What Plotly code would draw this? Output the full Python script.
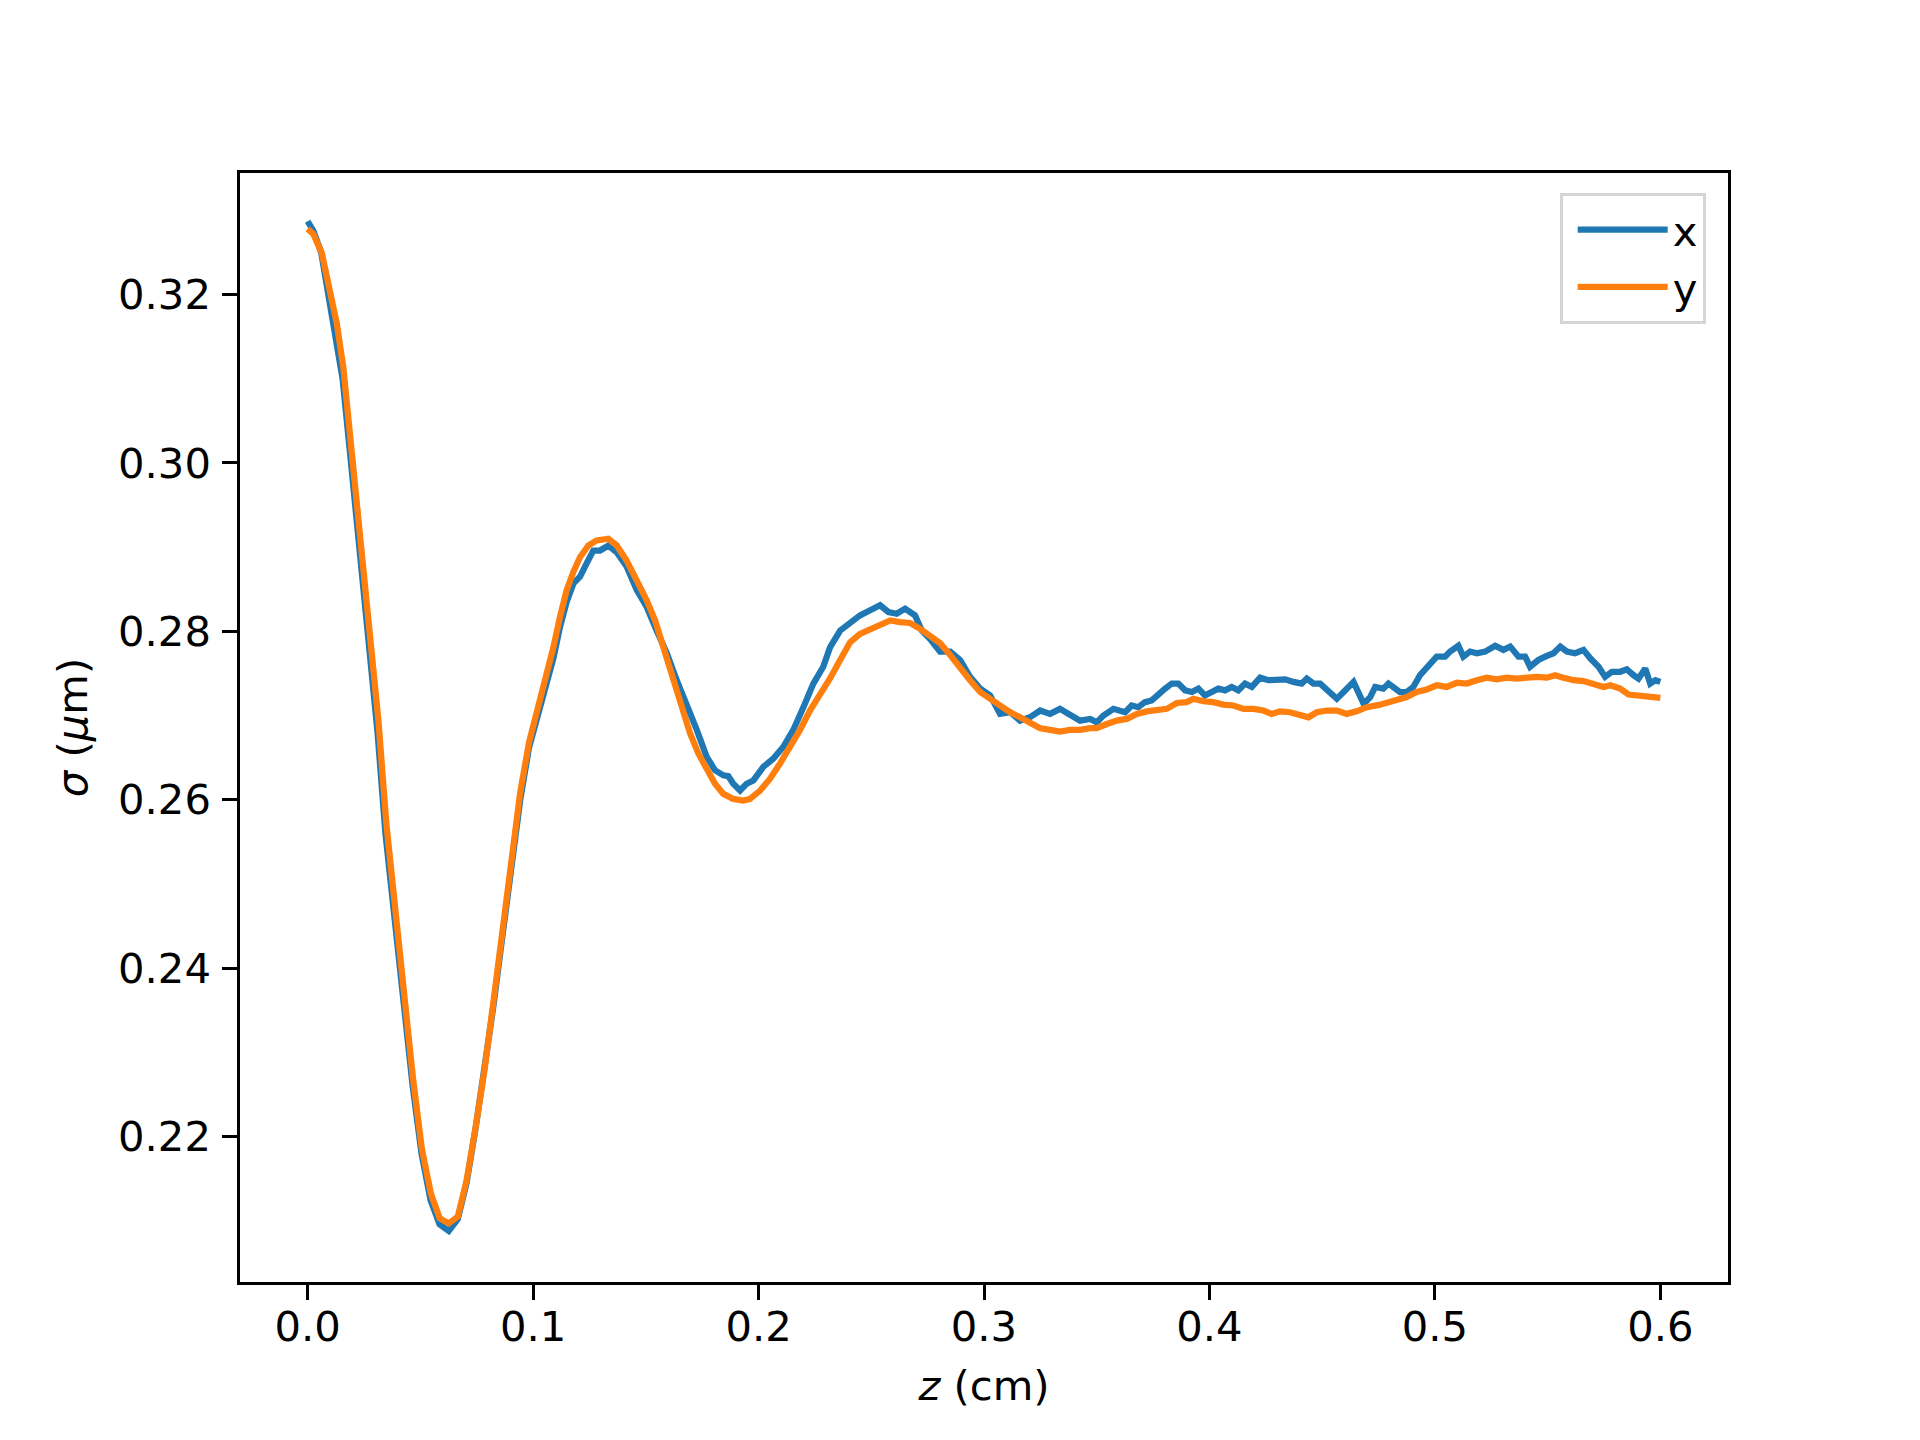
import plotly.graph_objects as go

# ---- data: series "x" (sigma_x) ----
z_x = [0.0000, 0.0025, 0.0060, 0.0090, 0.0125, 0.0155, 0.0185, 0.0215, 0.0245, 0.0280,
       0.0310, 0.0345, 0.0385, 0.0425, 0.0465, 0.0505, 0.0545, 0.0585, 0.0626, 0.0666,
       0.0705, 0.0745, 0.0785, 0.0824, 0.0864, 0.0903, 0.0943, 0.0982, 0.1025, 0.1060,
       0.1090, 0.1120, 0.1149, 0.1179, 0.1208, 0.1238, 0.1267, 0.1297, 0.1334, 0.1371,
       0.1415, 0.1460, 0.1504, 0.1548, 0.1593, 0.1637, 0.1681, 0.1726, 0.1770, 0.1807,
       0.1844, 0.1866, 0.1888, 0.1918, 0.1947, 0.1977, 0.2021, 0.2066, 0.2110, 0.2154,
       0.2199, 0.2243, 0.2287, 0.2317, 0.2362, 0.2406, 0.2450, 0.2495, 0.2539, 0.2576,
       0.2613, 0.2650, 0.2694, 0.2724, 0.2761, 0.2805, 0.2850, 0.2894, 0.2938, 0.2983,
       0.3027, 0.3071, 0.3116, 0.3160, 0.3204, 0.3249, 0.3293, 0.3337, 0.3382, 0.3426,
       0.3471, 0.3500, 0.3529, 0.3574, 0.3626, 0.3655, 0.3684, 0.3714, 0.3744, 0.3773,
       0.3803, 0.3833, 0.3862, 0.3892, 0.3922, 0.3951, 0.3980, 0.4010, 0.4039, 0.4069,
       0.4099, 0.4128, 0.4158, 0.4188, 0.4225, 0.4261, 0.4299, 0.4336, 0.4372, 0.4409,
       0.4432, 0.4461, 0.4491, 0.4528, 0.4565, 0.4595, 0.4639, 0.4684, 0.4713, 0.4735,
       0.4771, 0.4794, 0.4823, 0.4845, 0.4875, 0.4904, 0.4934, 0.4971, 0.5008, 0.5045,
       0.5067, 0.5104, 0.5126, 0.5156, 0.5186, 0.5223, 0.5267, 0.5304, 0.5334, 0.5371,
       0.5400, 0.5422, 0.5459, 0.5489, 0.5526, 0.5556, 0.5585, 0.5622, 0.5659, 0.5689,
       0.5726, 0.5755, 0.5785, 0.5822, 0.5851, 0.5881, 0.5903, 0.5933, 0.5955, 0.5978,
       0.6000]
sigma_x = [0.3287, 0.3276, 0.3250, 0.3205, 0.3155, 0.3100, 0.3020, 0.2940, 0.2860, 0.2765,
           0.2680, 0.2560, 0.2455, 0.2350, 0.2262, 0.2180, 0.2125, 0.2096, 0.2088, 0.2102,
           0.2145, 0.2210, 0.2278, 0.2355, 0.2438, 0.2520, 0.2600, 0.2662, 0.2705, 0.2738,
           0.2768, 0.2806, 0.2835, 0.2857, 0.2865, 0.2881, 0.2896, 0.2896, 0.2902, 0.2894,
           0.2877, 0.2849, 0.2829, 0.2801, 0.2774, 0.2742, 0.2714, 0.2683, 0.2651, 0.2635,
           0.2629, 0.2628, 0.2619, 0.2611, 0.2619, 0.2623, 0.2639, 0.2649, 0.2663, 0.2683,
           0.2710, 0.2738, 0.2758, 0.2781, 0.2801, 0.2811, 0.2819, 0.2825, 0.2831, 0.2823,
           0.2821, 0.2827, 0.2819, 0.2801, 0.2791, 0.2776, 0.2776, 0.2766, 0.2746, 0.2732,
           0.2724, 0.2702, 0.2704, 0.2694, 0.2698, 0.2706, 0.2702, 0.2708, 0.2700, 0.2694,
           0.2696, 0.2692, 0.2700, 0.2708, 0.2704, 0.2712, 0.2710, 0.2716, 0.2718, 0.2726,
           0.2732, 0.2738, 0.2738, 0.2730, 0.2728, 0.2732, 0.2724, 0.2728, 0.2732, 0.2730,
           0.2734, 0.2730, 0.2738, 0.2734, 0.2745, 0.2742, 0.2742, 0.2743, 0.2740, 0.2738,
           0.2744, 0.2738, 0.2738, 0.2730, 0.2720, 0.2728, 0.2740, 0.2714, 0.2722, 0.2734,
           0.2732, 0.2738, 0.2732, 0.2728, 0.2728, 0.2734, 0.2748, 0.2758, 0.2770, 0.2770,
           0.2776, 0.2783, 0.2770, 0.2776, 0.2774, 0.2776, 0.2783, 0.2778, 0.2782, 0.2770,
           0.2770, 0.2758, 0.2766, 0.2770, 0.2774, 0.2782, 0.2776, 0.2774, 0.2778, 0.2768,
           0.2758, 0.2746, 0.2752, 0.2752, 0.2755, 0.2748, 0.2744, 0.2756, 0.2738, 0.2742,
           0.2740]

# ---- data: series "y" (sigma_y) ----
z_y = [0.0000, 0.0025, 0.0063, 0.0092, 0.0129, 0.0158, 0.0188, 0.0218, 0.0247, 0.0284,
       0.0314, 0.0349, 0.0389, 0.0428, 0.0467, 0.0507, 0.0547, 0.0586, 0.0626, 0.0666,
       0.0705, 0.0745, 0.0785, 0.0824, 0.0864, 0.0903, 0.0943, 0.0982, 0.1025, 0.1060,
       0.1090, 0.1120, 0.1149, 0.1179, 0.1208, 0.1245, 0.1282, 0.1334, 0.1371, 0.1415,
       0.1460, 0.1504, 0.1541, 0.1578, 0.1622, 0.1659, 0.1696, 0.1733, 0.1770, 0.1807,
       0.1844, 0.1888, 0.1933, 0.1962, 0.2007, 0.2051, 0.2095, 0.2140, 0.2184, 0.2228,
       0.2273, 0.2317, 0.2362, 0.2406, 0.2450, 0.2495, 0.2539, 0.2584, 0.2628, 0.2672,
       0.2717, 0.2761, 0.2805, 0.2850, 0.2894, 0.2938, 0.2983, 0.3027, 0.3071, 0.3116,
       0.3160, 0.3204, 0.3249, 0.3293, 0.3337, 0.3382, 0.3426, 0.3471, 0.3500, 0.3545,
       0.3589, 0.3633, 0.3678, 0.3722, 0.3766, 0.3811, 0.3855, 0.3899, 0.3929, 0.3973,
       0.4017, 0.4062, 0.4106, 0.4151, 0.4195, 0.4239, 0.4276, 0.4313, 0.4357, 0.4402,
       0.4439, 0.4476, 0.4520, 0.4565, 0.4609, 0.4653, 0.4698, 0.4757, 0.4831, 0.4875,
       0.4919, 0.4964, 0.5008, 0.5052, 0.5097, 0.5141, 0.5186, 0.5230, 0.5274, 0.5319,
       0.5363, 0.5407, 0.5452, 0.5496, 0.5533, 0.5570, 0.5615, 0.5659, 0.5704, 0.5748,
       0.5778, 0.5822, 0.5859, 0.5897, 0.5941, 0.6000]
sigma_y = [0.3278, 0.3272, 0.3249, 0.3213, 0.3166, 0.3114, 0.3035, 0.2956, 0.2876, 0.2778,
           0.2694, 0.2572, 0.2466, 0.2360, 0.2270, 0.2185, 0.2132, 0.2103, 0.2097, 0.2105,
           0.2148, 0.2211, 0.2280, 0.2360, 0.2445, 0.2529, 0.2609, 0.2668, 0.2712, 0.2748,
           0.2781, 0.2818, 0.2849, 0.2871, 0.2888, 0.2902, 0.2908, 0.2910, 0.2902, 0.2884,
           0.2861, 0.2837, 0.2813, 0.2781, 0.2746, 0.2710, 0.2679, 0.2655, 0.2635, 0.2619,
           0.2607, 0.2601, 0.2599, 0.2601, 0.2611, 0.2625, 0.2643, 0.2663, 0.2683, 0.2706,
           0.2724, 0.2744, 0.2766, 0.2787, 0.2797, 0.2803, 0.2807, 0.2813, 0.2811, 0.2810,
           0.2803, 0.2795, 0.2786, 0.2772, 0.2756, 0.2742, 0.2728, 0.2720, 0.2710, 0.2704,
           0.2698, 0.2692, 0.2685, 0.2683, 0.2681, 0.2683, 0.2683, 0.2685, 0.2685, 0.2690,
           0.2694, 0.2696, 0.2702, 0.2705, 0.2706, 0.2708, 0.2715, 0.2716, 0.2720, 0.2717,
           0.2716, 0.2713, 0.2712, 0.2708, 0.2708, 0.2706, 0.2702, 0.2705, 0.2704, 0.2700,
           0.2698, 0.2704, 0.2706, 0.2706, 0.2702, 0.2705, 0.2710, 0.2713, 0.2718, 0.2722,
           0.2728, 0.2731, 0.2736, 0.2734, 0.2739, 0.2738, 0.2742, 0.2745, 0.2743, 0.2745,
           0.2744, 0.2745, 0.2746, 0.2745, 0.2748, 0.2745, 0.2742, 0.2741, 0.2738, 0.2734,
           0.2736, 0.2732, 0.2725, 0.2724, 0.2724, 0.2721]

x_ticks = [0.0, 0.1, 0.2, 0.3, 0.4, 0.5, 0.6]
x_tick_labels = ["0.0", "0.1", "0.2", "0.3", "0.4", "0.5", "0.6"]
y_ticks = [0.22, 0.24, 0.26, 0.28, 0.30, 0.32]
y_tick_labels = ["0.22", "0.24", "0.26", "0.28", "0.30", "0.32"]

FONT = "DejaVu Sans"
FS = 41.7

fig = go.Figure()
fig.add_trace(go.Scatter(x=z_x, y=sigma_x, mode="lines", name="x",
                         line=dict(color="#1f77b4", width=6.25)))
fig.add_trace(go.Scatter(x=z_y, y=sigma_y, mode="lines", name="y",
                         line=dict(color="#ff7f0e", width=6.25)))

axis_common = dict(showline=True, linecolor="black", linewidth=3.3, mirror=True,
                   ticks="outside", ticklen=14.6, tickwidth=3.3, tickcolor="black",
                   showgrid=False, zeroline=False,
                   tickfont=dict(family=FONT, size=FS, color="black"))

fig.update_layout(
    width=1920, height=1440,
    margin=dict(l=232, r=200, t=165, b=166),
    paper_bgcolor="white", plot_bgcolor="white",
    font=dict(family=FONT, size=FS, color="black"),
    xaxis=dict(range=[-0.03, 0.63], tickvals=x_ticks, ticktext=x_tick_labels,
               ticklabelstandoff=-9,
               title=dict(text="<i>z</i> (cm)", font=dict(family=FONT, size=FS), standoff=22),
               **axis_common),
    yaxis=dict(range=[0.20274, 0.33443], tickvals=y_ticks, ticktext=y_tick_labels,
               ticklabelstandoff=3,
               title=dict(text="<i>σ</i> (<i>μ</i>m)", font=dict(family=FONT, size=FS), standoff=18),
               **axis_common),
    legend=dict(x=0.985, y=0.982, xanchor="right", yanchor="top",
                bgcolor="rgba(255,255,255,0.8)", bordercolor="#d5d5d5", borderwidth=3,
                font=dict(family=FONT, size=FS), itemwidth=90, indentation=10,
                tracegroupgap=10),
    showlegend=True,
)

fig.write_html("out.html")
